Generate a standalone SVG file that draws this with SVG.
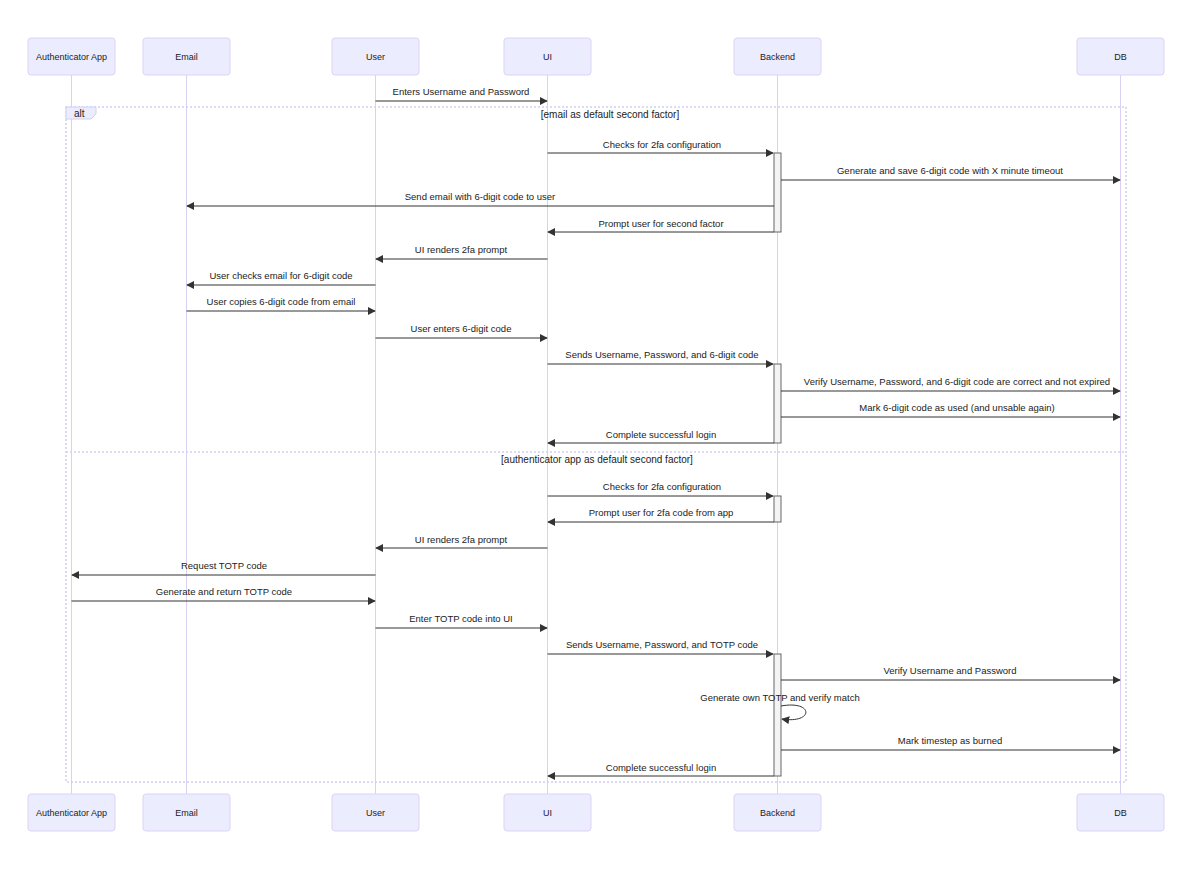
<svg xmlns="http://www.w3.org/2000/svg" width="1192" height="870" viewBox="0 0 1192 870">
<defs>
<style>
.actor{fill:#ECECFF;stroke:#DCD3F5;stroke-width:1}
.atext{font-family:"Liberation Sans",Arial,sans-serif;font-size:9px;fill:#222;text-anchor:middle;dominant-baseline:central}
.life{stroke:#D9D0F2;stroke-width:1}
.msg{stroke:#333;stroke-width:1;fill:none}
.mtext{font-family:"Liberation Sans",Arial,sans-serif;font-size:9.5px;fill:#222;text-anchor:middle}
.loop{stroke:#D0D0F2;stroke-width:1.5;stroke-dasharray:2,2;fill:none}
.lbox{fill:#ECECFF;stroke:#D0D0F2;stroke-width:1}
.ltext{font-family:"Liberation Sans",Arial,sans-serif;font-size:10px;fill:#222}
.act{fill:#F4F4F4;stroke:#666;stroke-width:1}
</style>
<marker id="arrow" viewBox="0 0 10 10" refX="9" refY="5" markerWidth="8" markerHeight="8" markerUnits="userSpaceOnUse" orient="auto"><path d="M0,0 L10,5 L0,10 z" fill="#333"/></marker>
</defs>
<rect width="1192" height="870" fill="#fff"/>
<g id="lifelines">
<line class="life" x1="71.5" y1="75" x2="71.5" y2="794"/>
<line class="life" x1="186.5" y1="75" x2="186.5" y2="794"/>
<line class="life" x1="375.5" y1="75" x2="375.5" y2="794"/>
<line class="life" x1="547.5" y1="75" x2="547.5" y2="794"/>
<line class="life" x1="777.5" y1="75" x2="777.5" y2="794"/>
<line class="life" x1="1120.5" y1="75" x2="1120.5" y2="794"/>
</g>
<g id="actor-auth-top"><rect class="actor" x="28" y="38" width="87" height="37" rx="3"/><text class="atext" x="71.5" y="57">Authenticator App</text></g>
<g id="actor-email-top"><rect class="actor" x="143" y="38" width="87" height="37" rx="3"/><text class="atext" x="186.5" y="57">Email</text></g>
<g id="actor-user-top"><rect class="actor" x="332" y="38" width="87" height="37" rx="3"/><text class="atext" x="375.5" y="57">User</text></g>
<g id="actor-ui-top"><rect class="actor" x="504" y="38" width="87" height="37" rx="3"/><text class="atext" x="547.5" y="57">UI</text></g>
<g id="actor-backend-top"><rect class="actor" x="734" y="38" width="87" height="37" rx="3"/><text class="atext" x="777.5" y="57">Backend</text></g>
<g id="actor-db-top"><rect class="actor" x="1077" y="38" width="87" height="37" rx="3"/><text class="atext" x="1120.5" y="57">DB</text></g>
<g id="actor-auth-bottom"><rect class="actor" x="28" y="794" width="87" height="37" rx="3"/><text class="atext" x="71.5" y="813">Authenticator App</text></g>
<g id="actor-email-bottom"><rect class="actor" x="143" y="794" width="87" height="37" rx="3"/><text class="atext" x="186.5" y="813">Email</text></g>
<g id="actor-user-bottom"><rect class="actor" x="332" y="794" width="87" height="37" rx="3"/><text class="atext" x="375.5" y="813">User</text></g>
<g id="actor-ui-bottom"><rect class="actor" x="504" y="794" width="87" height="37" rx="3"/><text class="atext" x="547.5" y="813">UI</text></g>
<g id="actor-backend-bottom"><rect class="actor" x="734" y="794" width="87" height="37" rx="3"/><text class="atext" x="777.5" y="813">Backend</text></g>
<g id="actor-db-bottom"><rect class="actor" x="1077" y="794" width="87" height="37" rx="3"/><text class="atext" x="1120.5" y="813">DB</text></g>
<g id="alt-frame">
<rect class="loop" x="66" y="107" width="1060" height="675"/>
<line class="loop" x1="66" y1="452" x2="1126" y2="452"/>
<polygon class="lbox" points="66,107 96,107 96,114 91,119 66,119"/>
<text class="ltext" x="74" y="116.5">alt</text>
<text class="ltext" x="610" y="117.5" text-anchor="middle">[email as default second factor]</text>
<text class="ltext" x="597" y="463" text-anchor="middle">[authenticator app as default second factor]</text>
</g>
<g id="activations">
<rect class="act" x="774" y="153" width="7" height="79"/>
<rect class="act" x="774" y="364" width="7" height="79"/>
<rect class="act" x="774" y="496" width="7" height="26"/>
<rect class="act" x="774" y="654" width="7" height="122"/>
</g>
<g id="connectors">
<line class="msg" x1="375.5" y1="101" x2="547" y2="101" marker-end="url(#arrow)"/>
<line class="msg" x1="547.5" y1="153" x2="773" y2="153" marker-end="url(#arrow)"/>
<line class="msg" x1="781" y1="180" x2="1120" y2="180" marker-end="url(#arrow)"/>
<line class="msg" x1="774" y1="206" x2="187" y2="206" marker-end="url(#arrow)"/>
<line class="msg" x1="774" y1="232" x2="548" y2="232" marker-end="url(#arrow)"/>
<line class="msg" x1="547.5" y1="259" x2="376" y2="259" marker-end="url(#arrow)"/>
<line class="msg" x1="375.5" y1="285" x2="187" y2="285" marker-end="url(#arrow)"/>
<line class="msg" x1="186.5" y1="311" x2="375" y2="311" marker-end="url(#arrow)"/>
<line class="msg" x1="375.5" y1="338" x2="547" y2="338" marker-end="url(#arrow)"/>
<line class="msg" x1="547.5" y1="364" x2="773" y2="364" marker-end="url(#arrow)"/>
<line class="msg" x1="781" y1="391" x2="1120" y2="391" marker-end="url(#arrow)"/>
<line class="msg" x1="781" y1="417" x2="1120" y2="417" marker-end="url(#arrow)"/>
<line class="msg" x1="774" y1="443" x2="548" y2="443" marker-end="url(#arrow)"/>
<line class="msg" x1="547.5" y1="496" x2="773" y2="496" marker-end="url(#arrow)"/>
<line class="msg" x1="774" y1="522" x2="548" y2="522" marker-end="url(#arrow)"/>
<line class="msg" x1="547.5" y1="548" x2="376" y2="548" marker-end="url(#arrow)"/>
<line class="msg" x1="375.5" y1="575" x2="72" y2="575" marker-end="url(#arrow)"/>
<line class="msg" x1="71.5" y1="601" x2="375" y2="601" marker-end="url(#arrow)"/>
<line class="msg" x1="375.5" y1="628" x2="547" y2="628" marker-end="url(#arrow)"/>
<line class="msg" x1="547.5" y1="654" x2="773" y2="654" marker-end="url(#arrow)"/>
<line class="msg" x1="781" y1="680" x2="1120" y2="680" marker-end="url(#arrow)"/>
<path class="msg" d="M781,706 C814,700 814,724 782,719" marker-end="url(#arrow)"/>
<line class="msg" x1="781" y1="750" x2="1120" y2="750" marker-end="url(#arrow)"/>
<line class="msg" x1="774" y1="776" x2="548" y2="776" marker-end="url(#arrow)"/>
</g>
<g id="labels">
<text class="mtext" x="461" y="95">Enters Username and Password</text>
<text class="mtext" x="662" y="148">Checks for 2fa configuration</text>
<text class="mtext" x="950" y="174">Generate and save 6-digit code with X minute timeout</text>
<text class="mtext" x="480" y="200">Send email with 6-digit code to user</text>
<text class="mtext" x="661" y="227">Prompt user for second factor</text>
<text class="mtext" x="461" y="253">UI renders 2fa prompt</text>
<text class="mtext" x="281" y="279">User checks email for 6-digit code</text>
<text class="mtext" x="281" y="305">User copies 6-digit code from email</text>
<text class="mtext" x="461" y="332">User enters 6-digit code</text>
<text class="mtext" x="662" y="358">Sends Username, Password, and 6-digit code</text>
<text class="mtext" x="957" y="385">Verify Username, Password, and 6-digit code are correct and not expired</text>
<text class="mtext" x="957" y="411">Mark 6-digit code as used (and unsable again)</text>
<text class="mtext" x="661" y="438">Complete successful login</text>
<text class="mtext" x="662" y="490">Checks for 2fa configuration</text>
<text class="mtext" x="661" y="516">Prompt user for 2fa code from app</text>
<text class="mtext" x="461" y="543">UI renders 2fa prompt</text>
<text class="mtext" x="224" y="569">Request TOTP code</text>
<text class="mtext" x="224" y="595">Generate and return TOTP code</text>
<text class="mtext" x="461" y="622">Enter TOTP code into UI</text>
<text class="mtext" x="662" y="648">Sends Username, Password, and TOTP code</text>
<text class="mtext" x="950" y="674">Verify Username and Password</text>
<text class="mtext" x="780" y="701">Generate own TOTP and verify match</text>
<text class="mtext" x="950" y="744">Mark timestep as burned</text>
<text class="mtext" x="661" y="771">Complete successful login</text>
</g>
</svg>
